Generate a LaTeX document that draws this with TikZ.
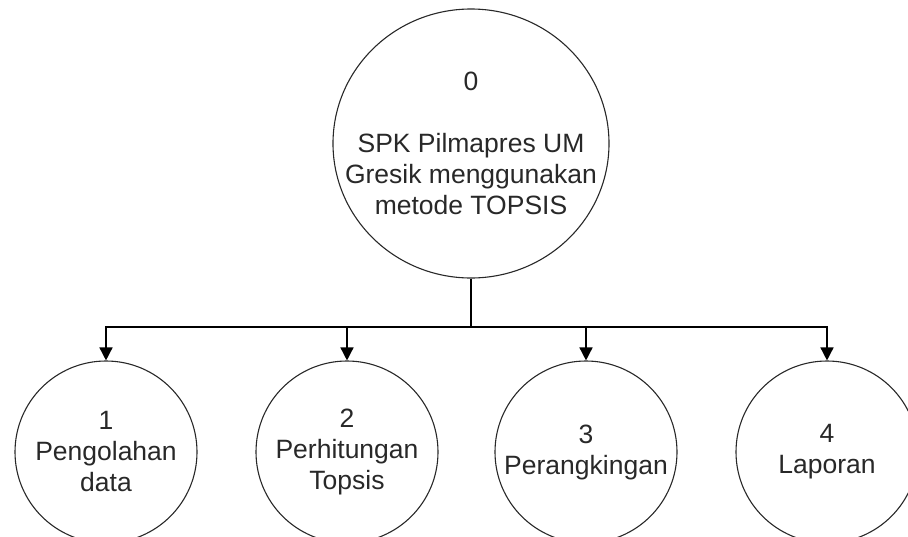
\documentclass[tikz,border=0pt]{standalone}
\usepackage{fontspec}
\setmainfont{Liberation Sans}
\usetikzlibrary{arrows.meta,shapes.geometric}
\definecolor{ink}{RGB}{40,40,40}
\begin{document}
\begin{tikzpicture}[x=1pt,y=-1pt,
  txt/.style={align=center,text=ink,font=\fontsize{26.5}{31}\selectfont,inner sep=0pt},
  proc/.style={txt,draw=ink,line width=1.1pt,circle,minimum size=182pt},
  main/.style={draw=ink,line width=1.1pt,ellipse,minimum width=276pt,minimum height=269pt,inner sep=0pt},
  link/.style={draw=black,line width=1.5pt},
  arr/.style={link,-{Triangle[length=13pt,width=13pt]}}]
\useasboundingbox (0,0) rectangle (908,536);
\clip (0,0) rectangle (908,536);
\node[main] (p0) at (471,143.5) {};
\node[txt] (p0t) at (p0.center) {0\\[31pt]SPK Pilmapres UM\\Gresik menggunakan\\metode TOPSIS};
\node[proc] (p1) at (106,452) {1\\Pengolahan\\data};
\node[proc] (p2) at (347,452) {2\\Perhitungan\\Topsis};
\node[proc] (p3) at (586,452) {3\\Perangkingan};
\node[proc] (p4) at (827,452) {4\\Laporan};
\coordinate (j) at (p0.south |- 0,327);
\draw[link,line width=2pt] (p0.south) -- (j);
\draw[arr] (j) -| (p1);
\draw[arr] (j) -| (p2);
\draw[arr] (j) -| (p3);
\draw[arr] (j) -| (p4);
\end{tikzpicture}
\end{document}
